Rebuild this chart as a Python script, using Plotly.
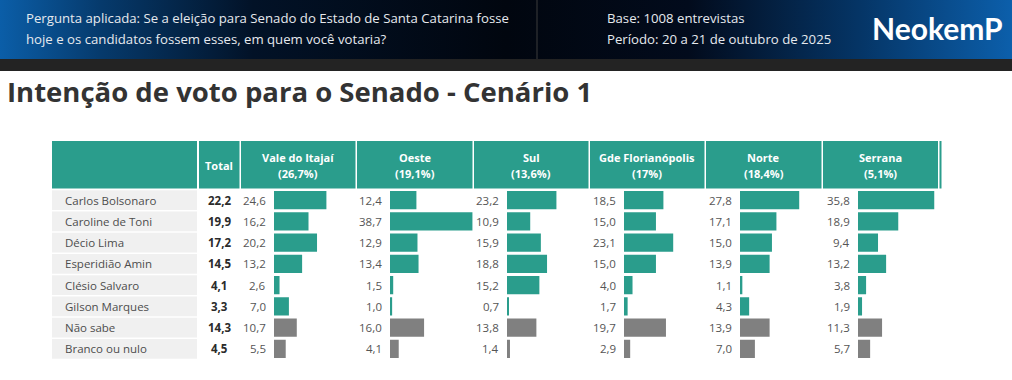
import plotly.graph_objects as go

# ---------------- data ----------------
candidates = ["Carlos Bolsonaro", "Caroline de Toni", "Décio Lima", "Esperidião Amin",
              "Clésio Salvaro", "Gilson Marques", "Não sabe", "Branco ou nulo"]
total = [22.2, 19.9, 17.2, 14.5, 4.1, 3.3, 14.3, 4.5]
regions = ["Vale do Itajaí", "Oeste", "Sul", "Gde Florianópolis", "Norte", "Serrana"]
region_shares = ["(26,7%)", "(19,1%)", "(13,6%)", "(17%)", "(18,4%)", "(5,1%)"]
vale = [24.6, 16.2, 20.2, 13.2, 2.6, 7.0, 10.7, 5.5]
oeste = [12.4, 38.7, 12.9, 13.4, 1.5, 1.0, 16.0, 4.1]
sul = [23.2, 10.9, 15.9, 18.8, 15.2, 0.7, 13.8, 1.4]
gde = [18.5, 15.0, 23.1, 15.0, 4.0, 1.7, 19.7, 2.9]
norte = [27.8, 17.1, 15.0, 13.9, 1.1, 4.3, 13.9, 7.0]
serrana = [35.8, 18.9, 9.4, 13.2, 3.8, 1.9, 11.3, 5.7]
series = [vale, oeste, sul, gde, norte, serrana]
neutral = ["Não sabe", "Branco ou nulo"]

# ---------------- style / layout ----------------
W, H = 1012, 380
TEAL = "#2A9D8C"
GRAY_BAR = "#808080"
ROW_BG = "#F0F0F0"
FONT = "Open Sans"
PX_PER_UNIT = 2.13
AX_MAX = 40
bar_starts = [274, 390, 507, 624, 740, 858]
col_bounds = [(241, 355.5), (357, 472.5), (474, 588.5), (590, 704.5), (706, 821.5), (823, 938)]
ROW_TOP, ROW_BOTTOM = 189.5, 359.5


def px(x):
    return x / W


def py(y):
    return 1 - y / H


def fmt(v):
    return f"{v:.1f}".replace(".", ",")


fig = go.Figure()

# header band gradient (own pixel axes)
fig.add_trace(go.Scatter(
    x=[0, W, W, 0, 0], y=[0, 0, 59, 59, 0], xaxis="x7", yaxis="y2",
    mode="lines", line=dict(width=0), fill="toself",
    fillgradient=dict(type="horizontal", colorscale=[
        [0.0, "#0b5ea8"], [0.1, "#063a6c"], [0.25, "#021227"], [0.5, "#01060f"],
        [0.68, "#020b1c"], [0.85, "#053566"], [1.0, "#0c5fab"]]),
    hoverinfo="skip", showlegend=False))

for i, vals in enumerate(series):
    ax = f"x{i + 1}" if i else "x"
    colors = [GRAY_BAR if c in neutral else TEAL for c in candidates]
    fig.add_trace(go.Bar(
        x=vals, y=candidates, orientation="h", xaxis=ax, yaxis="y",
        marker=dict(color=colors, line=dict(width=0)), width=0.85,
        hoverinfo="skip", showlegend=False))

layout = dict(
    width=W, height=H, autosize=False,
    margin=dict(l=0, r=0, t=0, b=0, pad=0),
    paper_bgcolor="white", plot_bgcolor="rgba(0,0,0,0)",
    bargap=0.15,
    yaxis=dict(domain=[py(ROW_BOTTOM), py(ROW_TOP)], range=[7.5, -0.5], type="category",
               categoryorder="array", categoryarray=candidates,
               visible=False, fixedrange=True),
    yaxis2=dict(domain=[0, 1], range=[H, 0], visible=False, anchor="x7"),
    xaxis7=dict(domain=[0, 1], range=[0, W], visible=False, anchor="y2"),
)
for i, start in enumerate(bar_starts):
    key = f"xaxis{i + 1}" if i else "xaxis"
    layout[key] = dict(domain=[px(start), px(start + PX_PER_UNIT * AX_MAX)],
                       range=[0, AX_MAX], visible=False, anchor="y", fixedrange=True)
fig.update_layout(**layout)

shapes = []
# dark strip under header
shapes.append(dict(type="rect", xref="paper", yref="paper", x0=0, x1=1, y0=py(71), y1=py(59),
                   fillcolor="#232323", line=dict(width=0), layer="below"))
# separator in header
shapes.append(dict(type="line", xref="paper", yref="paper", x0=px(537), x1=px(537), y0=py(0), y1=py(59),
                   line=dict(color="#3c3c3c", width=1), layer="above"))
# table header cells
hdr_cells = [(52, 197), (199, 239.5)] + col_bounds + [(939.5, 941.5)]
for x0, x1 in hdr_cells:
    shapes.append(dict(type="rect", xref="paper", yref="paper", x0=px(x0), x1=px(x1),
                       y0=py(188.5), y1=py(141), fillcolor=TEAL, line=dict(width=0), layer="below"))
# row label backgrounds
for i, c in enumerate(candidates):
    shapes.append(dict(type="rect", xref="paper", yref="y", x0=px(52), x1=px(197),
                       y0=i - 0.47, y1=i + 0.47, fillcolor=ROW_BG, line=dict(width=0), layer="below"))
fig.update_layout(shapes=shapes)

ann = []
# header texts
ann.append(dict(text="Pergunta aplicada: Se a eleição para Senado do Estado de Santa Catarina fosse",
                x=px(24), y=py(18.5), xanchor="left", yanchor="middle"))
ann.append(dict(text="hoje e os candidatos fossem esses, em quem você votaria?",
                x=px(24), y=py(39), xanchor="left", yanchor="middle"))
ann.append(dict(text="Base: 1008 entrevistas", x=px(605), y=py(18.5), xanchor="left", yanchor="middle"))
ann.append(dict(text="Período: 20 a 21 de outubro de 2025", x=px(605), y=py(39), xanchor="left",
                yanchor="middle"))
for a in ann:
    a.update(xref="paper", yref="paper", showarrow=False,
             font=dict(family=FONT, size=13.2, color="#e6e9ee"))
ann.append(dict(text="<b>NeokemP</b>", x=px(937), y=py(27.5), xref="paper", yref="paper",
                xanchor="center", yanchor="middle", showarrow=False,
                font=dict(family="Lato", size=30, color="white")))
# title
ann.append(dict(text="<b>Intenção de voto para o Senado - Cenário 1</b>", x=px(5), y=py(92),
                xref="paper", yref="paper", xanchor="left", yanchor="middle", showarrow=False,
                font=dict(family=FONT, size=27.5, color="#333333")))
# table header labels
hfont = dict(family=FONT, size=11, color="white")
ann.append(dict(text="<b>Total</b>", x=px(219), y=py(165.5), xref="paper", yref="paper",
                xanchor="center", yanchor="middle", showarrow=False, font=hfont))
for (x0, x1), name, share in zip(col_bounds, regions, region_shares):
    cx = (x0 + x1) / 2
    ann.append(dict(text=f"<b>{name}</b>", x=px(cx), y=py(157), xref="paper", yref="paper",
                    xanchor="center", yanchor="middle", showarrow=False, font=hfont))
    ann.append(dict(text=f"<b>{share}</b>", x=px(cx), y=py(173), xref="paper", yref="paper",
                    xanchor="center", yanchor="middle", showarrow=False, font=hfont))
# row labels and totals
for c, t in zip(candidates, total):
    ann.append(dict(text=c, x=px(63), y=c, xref="paper", yref="y", xanchor="left", yanchor="middle",
                    showarrow=False, font=dict(family=FONT, size=11.5, color="#4d4d4d")))
    ann.append(dict(text=f"<b>{fmt(t)}</b>", x=px(219), y=c, xref="paper", yref="y",
                    xanchor="center", yanchor="middle", showarrow=False,
                    font=dict(family=FONT, size=11.5, color="#2b2b2b")))
# value labels
for i, vals in enumerate(series):
    ax = f"x{i + 1}" if i else "x"
    for c, v in zip(candidates, vals):
        ann.append(dict(text=fmt(v), x=0, y=c, xref=ax, yref="y", xanchor="right", yanchor="middle",
                        xshift=-6, showarrow=False,
                        font=dict(family=FONT, size=11.5, color="#555555")))
fig.update_layout(annotations=ann)

fig.write_html("out.html", config={"displayModeBar": False},
               post_script="document.body.style.margin='0';")
